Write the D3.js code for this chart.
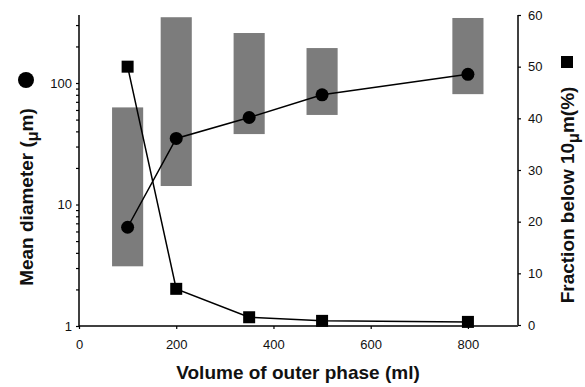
<!DOCTYPE html>
<html>
<head>
<meta charset="utf-8">
<script src="https://cdn.jsdelivr.net/npm/d3@7"></script>
<style>
  body { margin: 0; background: #fff; }
  text { font-family: "Liberation Sans", Arial, sans-serif; fill: #111; }
  .title { font-size: 19px; font-weight: bold; }
</style>
</head>
<body>
<svg id="chart" width="585" height="387"></svg>
<script>
// volume of outer phase (ml)
const volumes = [100, 200, 350, 500, 800];
// mean diameter (um), log axis
const meanDiameter = [6.5, 35, 52, 80, 118];
// size range shown as grey bars (um)
const rangeLow = [3.1, 14.2, 38, 54.6, 81];
const rangeHigh = [63, 348, 258, 194, 343];
// fraction below 10 um (%), right axis
const fraction = [50, 7, 1.5, 0.8, 0.6];

const xTicks = [0, 200, 400, 600, 800];
const yLeftTicks = [1, 10, 100];
const yRightTicks = [0, 10, 20, 30, 40, 50, 60];

const svg = d3.select('#chart');

const x = d3.scaleLinear().domain([0, 903]).range([79, 518]);
const yL = d3.scaleLog().domain([1, 363]).range([326, 15]);
const yR = d3.scaleLinear().domain([0, 60]).range([325, 15]);

// grey range bars
const halfWidth = 32;
svg.append('g')
    .selectAll('rect')
    .data(volumes)
    .enter()
    .append('rect')
    .attr('x', d => x(d - halfWidth))
    .attr('width', d => x(d + halfWidth) - x(d - halfWidth))
    .attr('y', (d, i) => yL(rangeHigh[i]))
    .attr('height', (d, i) => yL(rangeLow[i]) - yL(rangeHigh[i]))
    .style('fill', '#7c7c7c');

// axes
const minorTicks = [];
for (let p = 1; p <= 100; p *= 10) {
    for (let k = 1; k < 10; k++) {
        if (p * k <= 363) minorTicks.push(p * k);
    }
}

svg.append('g')
    .attr('transform', 'translate(79,0)')
    .call(d3.axisLeft(yL).tickValues(minorTicks).tickSize(3).tickPadding(4)
        .tickFormat(d => yLeftTicks.includes(d) ? d : ''))
    .call(g => g.select('.domain').attr('d', 'M0,15V326').style('stroke-width', 1.5))
    .call(g => g.selectAll('.tick line').style('stroke-width', 1.2));

svg.append('g')
    .attr('transform', 'translate(0,326)')
    .call(d3.axisBottom(x).tickValues(xTicks).tickSize(3).tickPadding(11))
    .call(g => g.select('.domain').attr('d', 'M79,0H518').style('stroke-width', 1.5))
    .call(g => g.selectAll('.tick line').style('stroke-width', 1.2));

svg.append('g')
    .attr('transform', 'translate(518,0)')
    .call(d3.axisRight(yR).tickValues(yRightTicks).tickSize(3).tickPadding(7))
    .call(g => g.select('.domain').attr('d', 'M0,15V325').style('stroke-width', 1.5))
    .call(g => g.selectAll('.tick line').style('stroke-width', 1.2));

svg.selectAll('.tick text')
    .style('font-size', '13px')
    .style('font-family', '"Liberation Sans", Arial, sans-serif')
    .style('fill', '#111');

// mean diameter line + circles
const lineL = d3.line().x((d, i) => x(volumes[i])).y(d => yL(d));
svg.append('path')
    .attr('d', lineL(meanDiameter))
    .style('fill', 'none')
    .style('stroke', '#000')
    .style('stroke-width', 1.5);

svg.append('g')
    .selectAll('circle')
    .data(meanDiameter)
    .enter()
    .append('circle')
    .attr('cx', (d, i) => x(volumes[i]))
    .attr('cy', d => yL(d))
    .attr('r', 6.5)
    .style('fill', '#000');

// fraction line + squares
const lineR = d3.line().x((d, i) => x(volumes[i])).y(d => yR(d));
svg.append('path')
    .attr('d', lineR(fraction))
    .style('fill', 'none')
    .style('stroke', '#000')
    .style('stroke-width', 1.5);

const sq = 12;
svg.append('g')
    .selectAll('rect')
    .data(fraction)
    .enter()
    .append('rect')
    .attr('x', (d, i) => x(volumes[i]) - sq / 2)
    .attr('y', d => yR(d) - sq / 2)
    .attr('width', sq)
    .attr('height', sq)
    .style('fill', '#000');

// titles
svg.append('text')
    .attr('class', 'title')
    .attr('x', 298)
    .attr('y', 379)
    .attr('text-anchor', 'middle')
    .text('Volume of outer phase (ml)');

const leftTitle = svg.append('text')
    .attr('class', 'title')
    .attr('transform', 'translate(33,197) rotate(-90)')
    .attr('text-anchor', 'middle');
leftTitle.append('tspan').text('Mean diameter (');
leftTitle.append('tspan').attr('dy', 5).style('font-size', '16px').text('μ');
leftTitle.append('tspan').attr('dy', -5).text('m)');

svg.append('circle')
    .attr('cx', 26)
    .attr('cy', 80)
    .attr('r', 8)
    .style('fill', '#000');

const rightTitle = svg.append('text')
    .attr('class', 'title')
    .attr('transform', 'translate(574,195) rotate(-90)')
    .attr('text-anchor', 'middle');
rightTitle.append('tspan').text('Fraction below 10');
rightTitle.append('tspan').attr('dy', 5).style('font-size', '16px').text('μ');
rightTitle.append('tspan').attr('dy', -5).text('m(%)');

svg.append('rect')
    .attr('x', 561)
    .attr('y', 56)
    .attr('width', 12)
    .attr('height', 12)
    .style('fill', '#000');
</script>
</body>
</html>
